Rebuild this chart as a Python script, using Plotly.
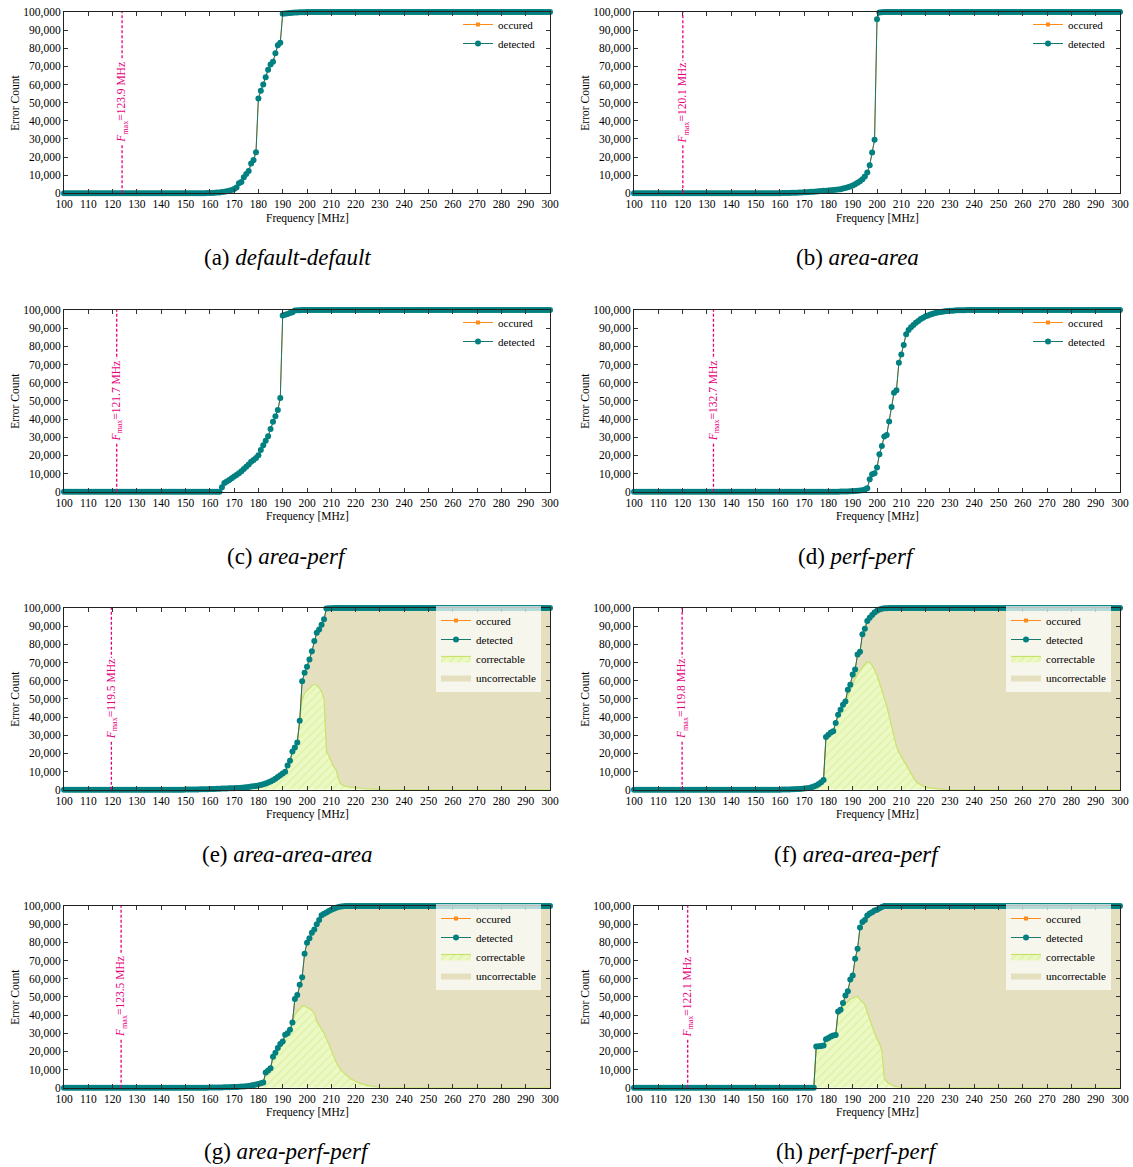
import plotly.graph_objects as go

# ---------------- data ----------------
FREQ_MHZ = list(range(100, 301))  # 1 MHz sweep, 100..300 MHz

FMAX = [123.9, 120.1, 121.7, 132.7, 119.5, 119.8, 123.5, 122.1]
CAPTION_ID = ["(a)", "(b)", "(c)", "(d)", "(e)", "(f)", "(g)", "(h)"]
CAPTION_NAME = ["default-default", "area-area", "area-perf", "perf-perf",
                "area-area-area", "area-area-perf", "area-perf-perf", "perf-perf-perf"]
X_TICKS = [100, 110, 120, 130, 140, 150, 160, 170, 180, 190, 200,
           210, 220, 230, 240, 250, 260, 270, 280, 290, 300]
Y_TICKS = [0, 10000, 20000, 30000, 40000, 50000, 60000, 70000, 80000, 90000, 100000]

DET_A = [
    0, 0, 0, 0, 0, 0, 0, 0, 0, 0,
    0, 0, 0, 0, 0, 0, 0, 0, 0, 0,
    0, 0, 0, 0, 0, 0, 0, 0, 0, 0,
    0, 0, 0, 0, 0, 0, 0, 0, 0, 0,
    0, 0, 0, 0, 0, 0, 0, 0, 0, 0,
    0, 0, 0, 0, 0, 10, 20, 40, 60, 100,
    150, 200, 280, 380, 500, 650, 850, 1100, 1400, 1800,
    2400, 3200, 5500, 6300, 8800, 10700, 12300, 16400, 18300, 22600,
    52300, 56500, 60000, 64000, 68200, 71000, 72500, 77300, 81700, 83000,
    99000, 99200, 99350, 99500, 99600, 99700, 99780, 99840, 99880, 99920,
    99950, 99970, 99980, 99990, 100000, 100000, 100000, 100000, 100000, 100000,
    100000, 100000, 100000, 100000, 100000, 100000, 100000, 100000, 100000, 100000,
    100000, 100000, 100000, 100000, 100000, 100000, 100000, 100000, 100000, 100000,
    100000, 100000, 100000, 100000, 100000, 100000, 100000, 100000, 100000, 100000,
    100000, 100000, 100000, 100000, 100000, 100000, 100000, 100000, 100000, 100000,
    100000, 100000, 100000, 100000, 100000, 100000, 100000, 100000, 100000, 100000,
    100000, 100000, 100000, 100000, 100000, 100000, 100000, 100000, 100000, 100000,
    100000, 100000, 100000, 100000, 100000, 100000, 100000, 100000, 100000, 100000,
    100000, 100000, 100000, 100000, 100000, 100000, 100000, 100000, 100000, 100000,
    100000, 100000, 100000, 100000, 100000, 100000, 100000, 100000, 100000, 100000,
    100000,
]

DET_B = [
    0, 0, 0, 0, 0, 0, 0, 0, 0, 0,
    0, 0, 0, 0, 0, 0, 0, 0, 0, 0,
    0, 0, 0, 0, 0, 0, 0, 0, 0, 0,
    0, 0, 0, 0, 0, 0, 0, 0, 0, 0,
    0, 0, 0, 0, 0, 0, 0, 0, 0, 0,
    0, 0, 0, 0, 0, 10, 20, 35, 50, 65,
    80, 100, 130, 160, 200, 250, 300, 360, 420, 480,
    540, 600, 700, 800, 900, 1000, 1100, 1200, 1350, 1450,
    1550, 1700, 1800, 1950, 2100, 2300, 2600, 2900, 3300, 3800,
    4300, 5000, 5800, 6700, 7800, 9300, 11500, 15500, 22500, 29500,
    96000, 99700, 99900, 100000, 100000, 100000, 100000, 100000, 100000, 100000,
    100000, 100000, 100000, 100000, 100000, 100000, 100000, 100000, 100000, 100000,
    100000, 100000, 100000, 100000, 100000, 100000, 100000, 100000, 100000, 100000,
    100000, 100000, 100000, 100000, 100000, 100000, 100000, 100000, 100000, 100000,
    100000, 100000, 100000, 100000, 100000, 100000, 100000, 100000, 100000, 100000,
    100000, 100000, 100000, 100000, 100000, 100000, 100000, 100000, 100000, 100000,
    100000, 100000, 100000, 100000, 100000, 100000, 100000, 100000, 100000, 100000,
    100000, 100000, 100000, 100000, 100000, 100000, 100000, 100000, 100000, 100000,
    100000, 100000, 100000, 100000, 100000, 100000, 100000, 100000, 100000, 100000,
    100000, 100000, 100000, 100000, 100000, 100000, 100000, 100000, 100000, 100000,
    100000,
]

DET_C = [
    0, 0, 0, 0, 0, 0, 0, 0, 0, 0,
    0, 0, 0, 0, 0, 0, 0, 0, 0, 0,
    0, 0, 0, 0, 0, 0, 0, 0, 0, 0,
    0, 0, 0, 0, 0, 0, 0, 0, 0, 0,
    0, 0, 0, 0, 0, 0, 0, 0, 0, 0,
    0, 0, 0, 0, 0, 0, 0, 0, 0, 0,
    0, 0, 0, 0, 0, 2500, 4800, 5600, 6500, 7400,
    8300, 9200, 10200, 11300, 12500, 13700, 15000, 16500, 17500, 18500,
    20000, 23000, 25500, 28000, 30500, 34500, 38500, 41500, 45000, 51500,
    97000, 97400, 97800, 98300, 98800, 99700, 99800, 99900, 100000, 100000,
    100000, 100000, 100000, 100000, 100000, 100000, 100000, 100000, 100000, 100000,
    100000, 100000, 100000, 100000, 100000, 100000, 100000, 100000, 100000, 100000,
    100000, 100000, 100000, 100000, 100000, 100000, 100000, 100000, 100000, 100000,
    100000, 100000, 100000, 100000, 100000, 100000, 100000, 100000, 100000, 100000,
    100000, 100000, 100000, 100000, 100000, 100000, 100000, 100000, 100000, 100000,
    100000, 100000, 100000, 100000, 100000, 100000, 100000, 100000, 100000, 100000,
    100000, 100000, 100000, 100000, 100000, 100000, 100000, 100000, 100000, 100000,
    100000, 100000, 100000, 100000, 100000, 100000, 100000, 100000, 100000, 100000,
    100000, 100000, 100000, 100000, 100000, 100000, 100000, 100000, 100000, 100000,
    100000, 100000, 100000, 100000, 100000, 100000, 100000, 100000, 100000, 100000,
    100000,
]

DET_D = [
    0, 0, 0, 0, 0, 0, 0, 0, 0, 0,
    0, 0, 0, 0, 0, 0, 0, 0, 0, 0,
    0, 0, 0, 0, 0, 0, 0, 0, 0, 0,
    0, 0, 0, 0, 0, 0, 0, 0, 0, 0,
    0, 0, 0, 0, 0, 0, 0, 0, 0, 0,
    0, 0, 0, 0, 0, 0, 0, 0, 0, 0,
    0, 0, 0, 0, 0, 0, 0, 0, 0, 0,
    0, 0, 0, 0, 0, 0, 0, 0, 0, 0,
    0, 0, 0, 0, 0, 50, 80, 120, 170, 230,
    300, 400, 500, 650, 850, 1200, 1900, 6800, 9600, 10200,
    13300, 20600, 25200, 30400, 31200, 38700, 46600, 54400, 55800, 70900,
    75500, 80700, 86700, 89000, 90500, 91800, 93000, 94000, 95000, 95800,
    96500, 97000, 97500, 97900, 98300, 98600, 98900, 99100, 99300, 99450,
    99550, 99650, 99730, 99800, 99850, 99900, 99930, 99960, 99980, 99990,
    100000, 100000, 100000, 100000, 100000, 100000, 100000, 100000, 100000, 100000,
    100000, 100000, 100000, 100000, 100000, 100000, 100000, 100000, 100000, 100000,
    100000, 100000, 100000, 100000, 100000, 100000, 100000, 100000, 100000, 100000,
    100000, 100000, 100000, 100000, 100000, 100000, 100000, 100000, 100000, 100000,
    100000, 100000, 100000, 100000, 100000, 100000, 100000, 100000, 100000, 100000,
    100000, 100000, 100000, 100000, 100000, 100000, 100000, 100000, 100000, 100000,
    100000,
]

DET_E = [
    0, 0, 0, 0, 0, 0, 0, 0, 0, 0,
    0, 0, 0, 0, 0, 0, 0, 0, 0, 0,
    0, 0, 0, 0, 0, 0, 0, 0, 0, 0,
    0, 0, 0, 0, 0, 0, 0, 0, 0, 0,
    0, 0, 0, 0, 0, 0, 0, 0, 0, 0,
    50, 60, 80, 100, 120, 150, 180, 220, 260, 300,
    350, 400, 450, 500, 550, 600, 650, 700, 750, 800,
    850, 900, 1000, 1100, 1200, 1350, 1500, 1700, 1900, 2100,
    2300, 2600, 3000, 3400, 3900, 4500, 5200, 6000, 7000, 8000,
    8900, 9900, 13300, 16000, 21000, 23200, 26000, 38000, 59700, 64300,
    67600, 71700, 76200, 81800, 86400, 88200, 90800, 93800, 99700, 99850,
    99900, 99950, 100000, 100000, 100000, 100000, 100000, 100000, 100000, 100000,
    100000, 100000, 100000, 100000, 100000, 100000, 100000, 100000, 100000, 100000,
    100000, 100000, 100000, 100000, 100000, 100000, 100000, 100000, 100000, 100000,
    100000, 100000, 100000, 100000, 100000, 100000, 100000, 100000, 100000, 100000,
    100000, 100000, 100000, 100000, 100000, 100000, 100000, 100000, 100000, 100000,
    100000, 100000, 100000, 100000, 100000, 100000, 100000, 100000, 100000, 100000,
    100000, 100000, 100000, 100000, 100000, 100000, 100000, 100000, 100000, 100000,
    100000, 100000, 100000, 100000, 100000, 100000, 100000, 100000, 100000, 100000,
    100000, 100000, 100000, 100000, 100000, 100000, 100000, 100000, 100000, 100000,
    100000,
]

COR_E = [
    0, 0, 0, 0, 0, 0, 0, 0, 0, 0,
    0, 0, 0, 0, 0, 0, 0, 0, 0, 0,
    0, 0, 0, 0, 0, 0, 0, 0, 0, 0,
    0, 0, 0, 0, 0, 0, 0, 0, 0, 0,
    0, 0, 0, 0, 0, 0, 0, 0, 0, 0,
    50, 60, 80, 100, 120, 150, 180, 220, 260, 300,
    350, 400, 450, 500, 550, 600, 650, 700, 750, 800,
    850, 900, 1000, 1100, 1200, 1350, 1500, 1700, 1900, 2100,
    2300, 2600, 3000, 3400, 3900, 4500, 5200, 6000, 7000, 8000,
    8900, 9900, 13300, 16000, 21000, 23200, 26000, 38000, 49500, 53000,
    54500, 55500, 57000, 58000, 57500, 56000, 54000, 50000, 21000, 18500,
    15000, 12500, 11000, 5500, 3000, 2200, 1800, 1500, 1300, 1100,
    1000, 900, 800, 650, 500, 400, 300, 200, 120, 60,
    20, 0, 0, 0, 0, 0, 0, 0, 0, 0,
    0, 0, 0, 0, 0, 0, 0, 0, 0, 0,
    0, 0, 0, 0, 0, 0, 0, 0, 0, 0,
    0, 0, 0, 0, 0, 0, 0, 0, 0, 0,
    0, 0, 0, 0, 0, 0, 0, 0, 0, 0,
    0, 0, 0, 0, 0, 0, 0, 0, 0, 0,
    0, 0, 0, 0, 0, 0, 0, 0, 0, 0,
    0,
]

DET_F = [
    0, 0, 0, 0, 0, 0, 0, 0, 0, 0,
    0, 0, 0, 0, 0, 0, 0, 0, 0, 0,
    0, 0, 0, 0, 0, 0, 0, 0, 0, 0,
    0, 0, 0, 0, 0, 0, 0, 0, 0, 0,
    0, 0, 0, 0, 0, 0, 0, 0, 0, 0,
    0, 0, 0, 0, 0, 0, 0, 0, 0, 0,
    30, 50, 80, 110, 150, 200, 260, 330, 420, 520,
    640, 800, 1000, 1300, 1700, 2300, 3100, 4100, 5400, 29000,
    30200, 31500, 32200, 36700, 41300, 44000, 46800, 48600, 55000, 57800,
    63400, 66100, 74400, 75900, 85500, 88600, 92800, 94700, 96100, 97500,
    98500, 99200, 99600, 99800, 99900, 99950, 100000, 100000, 100000, 100000,
    100000, 100000, 100000, 100000, 100000, 100000, 100000, 100000, 100000, 100000,
    100000, 100000, 100000, 100000, 100000, 100000, 100000, 100000, 100000, 100000,
    100000, 100000, 100000, 100000, 100000, 100000, 100000, 100000, 100000, 100000,
    100000, 100000, 100000, 100000, 100000, 100000, 100000, 100000, 100000, 100000,
    100000, 100000, 100000, 100000, 100000, 100000, 100000, 100000, 100000, 100000,
    100000, 100000, 100000, 100000, 100000, 100000, 100000, 100000, 100000, 100000,
    100000, 100000, 100000, 100000, 100000, 100000, 100000, 100000, 100000, 100000,
    100000, 100000, 100000, 100000, 100000, 100000, 100000, 100000, 100000, 100000,
    100000, 100000, 100000, 100000, 100000, 100000, 100000, 100000, 100000, 100000,
    100000,
]

COR_F = [
    0, 0, 0, 0, 0, 0, 0, 0, 0, 0,
    0, 0, 0, 0, 0, 0, 0, 0, 0, 0,
    0, 0, 0, 0, 0, 0, 0, 0, 0, 0,
    0, 0, 0, 0, 0, 0, 0, 0, 0, 0,
    0, 0, 0, 0, 0, 0, 0, 0, 0, 0,
    0, 0, 0, 0, 0, 0, 0, 0, 0, 0,
    30, 50, 80, 110, 150, 200, 260, 330, 420, 520,
    640, 800, 1000, 1300, 1700, 2300, 3100, 4100, 5400, 29000,
    30200, 31500, 32200, 36700, 41300, 44000, 46800, 48000, 51500, 55000,
    58500, 61000, 63500, 65500, 67500, 69000, 70300, 70000, 68500, 66000,
    63000, 59000, 55000, 50500, 46000, 40500, 35000, 29500, 24000, 20500,
    18000, 15800, 13600, 11300, 9000, 6500, 4500, 3400, 2600, 1900,
    1400, 1100, 900, 700, 450, 250, 120, 50, 0, 0,
    0, 0, 0, 0, 0, 0, 0, 0, 0, 0,
    0, 0, 0, 0, 0, 0, 0, 0, 0, 0,
    0, 0, 0, 0, 0, 0, 0, 0, 0, 0,
    0, 0, 0, 0, 0, 0, 0, 0, 0, 0,
    0, 0, 0, 0, 0, 0, 0, 0, 0, 0,
    0, 0, 0, 0, 0, 0, 0, 0, 0, 0,
    0, 0, 0, 0, 0, 0, 0, 0, 0, 0,
    0,
]

DET_G = [
    0, 0, 0, 0, 0, 0, 0, 0, 0, 0,
    0, 0, 0, 0, 0, 0, 0, 0, 0, 0,
    0, 0, 0, 0, 0, 0, 0, 0, 0, 0,
    0, 0, 0, 0, 0, 0, 0, 0, 0, 0,
    0, 0, 0, 0, 0, 0, 0, 0, 0, 0,
    0, 0, 0, 0, 0, 0, 0, 0, 0, 0,
    50, 70, 90, 110, 140, 170, 200, 240, 280, 330,
    390, 450, 520, 600, 700, 850, 1000, 1200, 1450, 1700,
    2000, 2400, 2800, 8300, 9400, 10700, 17100, 19300, 21800, 24100,
    25400, 29100, 30000, 31900, 35900, 48800, 51000, 56600, 60800, 73700,
    79800, 82300, 85300, 87100, 89900, 92300, 94900, 95800, 96400, 97300,
    97900, 98500, 99000, 99400, 99700, 99850, 99950, 100000, 100000, 100000,
    100000, 100000, 100000, 100000, 100000, 100000, 100000, 100000, 100000, 100000,
    100000, 100000, 100000, 100000, 100000, 100000, 100000, 100000, 100000, 100000,
    100000, 100000, 100000, 100000, 100000, 100000, 100000, 100000, 100000, 100000,
    100000, 100000, 100000, 100000, 100000, 100000, 100000, 100000, 100000, 100000,
    100000, 100000, 100000, 100000, 100000, 100000, 100000, 100000, 100000, 100000,
    100000, 100000, 100000, 100000, 100000, 100000, 100000, 100000, 100000, 100000,
    100000, 100000, 100000, 100000, 100000, 100000, 100000, 100000, 100000, 100000,
    100000, 100000, 100000, 100000, 100000, 100000, 100000, 100000, 100000, 100000,
    100000,
]

COR_G = [
    0, 0, 0, 0, 0, 0, 0, 0, 0, 0,
    0, 0, 0, 0, 0, 0, 0, 0, 0, 0,
    0, 0, 0, 0, 0, 0, 0, 0, 0, 0,
    0, 0, 0, 0, 0, 0, 0, 0, 0, 0,
    0, 0, 0, 0, 0, 0, 0, 0, 0, 0,
    0, 0, 0, 0, 0, 0, 0, 0, 0, 0,
    50, 70, 90, 110, 140, 170, 200, 240, 280, 330,
    390, 450, 520, 600, 700, 850, 1000, 1200, 1450, 1700,
    2000, 2400, 2800, 8300, 9400, 10700, 17100, 19300, 21800, 24100,
    25400, 29100, 30000, 31900, 35900, 40200, 42000, 43800, 45000, 45000,
    44000, 43800, 42500, 41000, 36500, 34500, 32000, 30000, 27000, 23500,
    20500, 17500, 14000, 11500, 9500, 8300, 7000, 5800, 4800, 4200,
    3400, 2800, 2400, 1900, 1600, 1300, 1000, 700, 400, 200,
    100, 50, 0, 0, 0, 0, 0, 0, 0, 0,
    0, 0, 0, 0, 0, 0, 0, 0, 0, 0,
    0, 0, 0, 0, 0, 0, 0, 0, 0, 0,
    0, 0, 0, 0, 0, 0, 0, 0, 0, 0,
    0, 0, 0, 0, 0, 0, 0, 0, 0, 0,
    0, 0, 0, 0, 0, 0, 0, 0, 0, 0,
    0, 0, 0, 0, 0, 0, 0, 0, 0, 0,
    0,
]

DET_H = [
    0, 0, 0, 0, 0, 0, 0, 0, 0, 0,
    0, 0, 0, 0, 0, 0, 0, 0, 0, 0,
    0, 0, 0, 0, 0, 0, 0, 0, 0, 0,
    0, 0, 0, 0, 0, 0, 0, 0, 0, 0,
    0, 0, 0, 0, 0, 0, 0, 0, 0, 0,
    0, 0, 0, 0, 0, 0, 0, 0, 0, 0,
    0, 0, 0, 0, 0, 0, 0, 0, 0, 0,
    0, 0, 0, 0, 0, 22700, 22800, 23000, 23200, 26700,
    27300, 28200, 28700, 29000, 42000, 42900, 46600, 50700, 53100, 59500,
    61700, 70900, 76500, 88100, 91200, 92300, 94800, 95900, 96600, 97500,
    98000, 98700, 99500, 100000, 100000, 100000, 100000, 100000, 100000, 100000,
    100000, 100000, 100000, 100000, 100000, 100000, 100000, 100000, 100000, 100000,
    100000, 100000, 100000, 100000, 100000, 100000, 100000, 100000, 100000, 100000,
    100000, 100000, 100000, 100000, 100000, 100000, 100000, 100000, 100000, 100000,
    100000, 100000, 100000, 100000, 100000, 100000, 100000, 100000, 100000, 100000,
    100000, 100000, 100000, 100000, 100000, 100000, 100000, 100000, 100000, 100000,
    100000, 100000, 100000, 100000, 100000, 100000, 100000, 100000, 100000, 100000,
    100000, 100000, 100000, 100000, 100000, 100000, 100000, 100000, 100000, 100000,
    100000, 100000, 100000, 100000, 100000, 100000, 100000, 100000, 100000, 100000,
    100000, 100000, 100000, 100000, 100000, 100000, 100000, 100000, 100000, 100000,
    100000,
]

COR_H = [
    0, 0, 0, 0, 0, 0, 0, 0, 0, 0,
    0, 0, 0, 0, 0, 0, 0, 0, 0, 0,
    0, 0, 0, 0, 0, 0, 0, 0, 0, 0,
    0, 0, 0, 0, 0, 0, 0, 0, 0, 0,
    0, 0, 0, 0, 0, 0, 0, 0, 0, 0,
    0, 0, 0, 0, 0, 0, 0, 0, 0, 0,
    0, 0, 0, 0, 0, 0, 0, 0, 0, 0,
    0, 0, 0, 0, 0, 22700, 22800, 23000, 23200, 26700,
    27300, 28200, 28700, 29000, 42000, 42900, 44800, 46200, 47500, 48500,
    49400, 50000, 50300, 48500, 47000, 45700, 41500, 37500, 33500, 30000,
    26800, 24500, 20000, 5200, 3300, 2200, 1500, 900, 500, 200,
    50, 0, 0, 0, 0, 0, 0, 0, 0, 0,
    0, 0, 0, 0, 0, 0, 0, 0, 0, 0,
    0, 0, 0, 0, 0, 0, 0, 0, 0, 0,
    0, 0, 0, 0, 0, 0, 0, 0, 0, 0,
    0, 0, 0, 0, 0, 0, 0, 0, 0, 0,
    0, 0, 0, 0, 0, 0, 0, 0, 0, 0,
    0, 0, 0, 0, 0, 0, 0, 0, 0, 0,
    0, 0, 0, 0, 0, 0, 0, 0, 0, 0,
    0, 0, 0, 0, 0, 0, 0, 0, 0, 0,
    0,
]

DETECTED = [DET_A, DET_B, DET_C, DET_D, DET_E, DET_F, DET_G, DET_H]
OCCURRED = [DET_A, DET_B, DET_C, DET_D, DET_E, DET_F, DET_G, DET_H]  # identical, hidden below
CORRECTABLE = [None, None, None, None, COR_E, COR_F, COR_G, COR_H]

for s in DETECTED + [c for c in CORRECTABLE if c]:
    assert len(s) == len(FREQ_MHZ)

# ---------------- styling / layout ----------------
W, H = 1133, 1167
FONT = "Liberation Serif, Times New Roman, serif"
TEAL = "#008080"
TEAL_LINE = "#17786c"
ORANGE = "#ff8c1a"
MAGENTA = "#e6007e"
KHAKI = "#e3dfbf"
CORR_LINE = "#c9e26a"
CORR_BG = "#ecf9c4"
CORR_FG = "#d0ec8c"

# screen positions (px) of the plot frames and captions
COLS = [(64, 550), (634, 1120)]
ROWS = [(12, 193.3), (310, 491.7), (608, 789.7), (906, 1087.7)]
CAP_X = [287, 857]
CAP_Y = [258, 556, 854, 1151]
TICK_SIZE = 11.5


def fx(px):
    return px / W


def fy(py):
    return 1 - py / H


fig = go.Figure()
layout = dict(
    width=W, height=H, autosize=False,
    margin=dict(l=0, r=0, t=0, b=0, pad=0, autoexpand=False),
    paper_bgcolor="white", plot_bgcolor="white",
    font=dict(family=FONT, size=11, color="black"),
    showlegend=True,
)
shapes, annotations = [], []

for i in range(8):
    r, c = divmod(i, 2)
    x0, x1 = COLS[c]
    y0, y1 = ROWS[r]
    n = i + 1
    sfx = "" if n == 1 else str(n)
    xa, ya = f"x{sfx}", f"y{sfx}"
    xkey, ykey, lkey = f"xaxis{sfx}", f"yaxis{sfx}", f"legend{sfx}"

    layout[xkey] = dict(
        domain=[fx(x0), fx(x1)], anchor=ya, range=[100, 300],
        tickvals=X_TICKS, ticks="inside", ticklen=4, tickwidth=1, tickcolor="#333",
        showline=True, linecolor="#222", linewidth=1, mirror="ticks", automargin=False,
        ticklabeloverflow="allow",
        showgrid=False, zeroline=False, tickfont=dict(size=TICK_SIZE, family=FONT, color="black"),
    )
    layout[ykey] = dict(
        domain=[fy(y1), fy(y0)], anchor=xa, range=[0, 100000],
        tickvals=Y_TICKS, tickformat=",d", ticks="inside", ticklen=4, tickwidth=1, tickcolor="#333",
        showline=True, linecolor="#222", linewidth=1, mirror="ticks", automargin=False,
        ticklabeloverflow="allow",
        showgrid=False, zeroline=False, tickfont=dict(size=TICK_SIZE, family=FONT, color="black"),
    )
    has_corr = CORRECTABLE[i] is not None
    layout[lkey] = dict(
        x=fx(x1 - 9), xanchor="right", y=fy(y0 - 2), yanchor="top",
        bgcolor="rgba(255,255,255,0.7)" if has_corr else "rgba(255,255,255,0)",
        borderwidth=0, font=dict(size=11, family=FONT, color="black"),
        itemwidth=30, tracegroupgap=0, traceorder="normal",
    )

    if has_corr:
        fig.add_trace(go.Scatter(
            x=FREQ_MHZ, y=CORRECTABLE[i], mode="lines", name="correctable",
            line=dict(color=CORR_LINE, width=1.2), fill="tozeroy", fillcolor=CORR_BG,
            fillpattern=dict(shape="/", bgcolor=CORR_BG, fgcolor=CORR_FG, size=6, solidity=0.25),
            xaxis=xa, yaxis=ya, legend=lkey, legendrank=3, hoverinfo="skip",
        ))
        fig.add_trace(go.Scatter(
            x=FREQ_MHZ, y=DETECTED[i], mode="lines", name="uncorrectable",
            line=dict(color=KHAKI, width=0), fill="tonexty", fillcolor=KHAKI,
            xaxis=xa, yaxis=ya, legend=lkey, legendrank=4, hoverinfo="skip",
        ))

    fig.add_trace(go.Scatter(
        x=FREQ_MHZ, y=OCCURRED[i], mode="lines+markers", name="occured",
        line=dict(color=ORANGE, width=1), marker=dict(symbol="square", size=4, color=ORANGE),
        xaxis=xa, yaxis=ya, legend=lkey, legendrank=1, cliponaxis=False,
    ))
    fig.add_trace(go.Scatter(
        x=FREQ_MHZ, y=DETECTED[i], mode="lines+markers", name="detected",
        line=dict(color=TEAL_LINE, width=1), marker=dict(symbol="circle", size=6, color=TEAL),
        xaxis=xa, yaxis=ya, legend=lkey, legendrank=2, cliponaxis=False,
    ))

    # F_max marker line
    shapes.append(dict(
        type="line", xref=xa, yref=f"{ya} domain", x0=FMAX[i], x1=FMAX[i], y0=0, y1=1,
        line=dict(color=MAGENTA, width=1.3, dash="3px,2px"),
    ))
    annotations.append(dict(
        xref=xa, yref=f"{ya} domain", x=FMAX[i], y=0.5, textangle=-90,
        xanchor="center", yanchor="middle",
        text=f"<i>F</i><sub>max</sub>={FMAX[i]} MHz", showarrow=False,
        bgcolor="white", borderpad=1, font=dict(color=MAGENTA, size=11.5, family=FONT),
    ))
    # axis titles
    annotations.append(dict(
        xref="paper", yref="paper", x=fx(x0 - 49), y=fy((y0 + y1) / 2),
        xanchor="center", yanchor="middle",
        text="Error Count", textangle=-90, showarrow=False,
        font=dict(size=11.5, family=FONT, color="black"),
    ))
    annotations.append(dict(
        xref="paper", yref="paper", x=fx((x0 + x1) / 2), y=fy(y1 + 25),
        xanchor="center", yanchor="middle",
        text="Frequency [MHz]", showarrow=False,
        font=dict(size=11.5, family=FONT, color="black"),
    ))
    # caption
    annotations.append(dict(
        xref="paper", yref="paper", x=fx(CAP_X[c]), y=fy(CAP_Y[r]),
        xanchor="center", yanchor="middle",
        text=f"{CAPTION_ID[i]} <i>{CAPTION_NAME[i]}</i>", showarrow=False,
        font=dict(size=23, family=FONT, color="black"),
    ))

layout["shapes"] = shapes
layout["annotations"] = annotations
fig.update_layout(**layout)
# remove the browser's default 8px page margin so the figure fills the window exactly
fig.write_html(
    "out.html",
    config={"displayModeBar": False},
    post_script="document.body.style.margin='0';document.body.style.overflow='hidden';",
)
